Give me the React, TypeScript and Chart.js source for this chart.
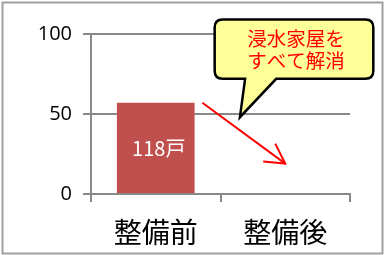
import React, { useEffect, useRef } from "react";
import { Chart, registerables } from "chart.js";

Chart.register(...registerables);

const categories = ["整備前", "整備後"];
const values: (number | null)[] = [57, null];
const barLabels = ["118戸", ""];
const yTicks = [0, 50, 100];
const calloutLines = ["浸水家屋を", "すべて解消"];

const JP = '"Noto Sans CJK JP", "Noto Sans", sans-serif';

const overlay = {
  id: "overlay",
  afterDatasetsDraw(chart: any) {
    const ctx = chart.ctx;
    const x = chart.scales.x;
    const y = chart.scales.y;
    // bar labels
    const meta = chart.getDatasetMeta(0);
    ctx.save();
    ctx.fillStyle = "#ffffff";
    ctx.font = `20px ${JP}`;
    ctx.textAlign = "center";
    ctx.textBaseline = "middle";
    meta.data.forEach((el: any, i: number) => {
      if (values[i] == null || !barLabels[i]) return;
      ctx.fillText(barLabels[i], el.x + 3, (el.y + el.base) / 2 + 1);
    });
    ctx.restore();

    // arrow
    const sx = x.getPixelForValue(0.36);
    const sy = y.getPixelForValue(values[0] as number);
    const ex = x.getPixelForValue(1.0);
    const ey = y.getPixelForValue(19);
    ctx.save();
    ctx.strokeStyle = "#ff0000";
    ctx.lineWidth = 2;
    ctx.beginPath();
    ctx.moveTo(sx, sy);
    ctx.lineTo(ex, ey);
    ctx.stroke();
    ctx.beginPath();
    ctx.moveTo(ex - 10, ey - 20);
    ctx.lineTo(ex, ey);
    ctx.lineTo(ex - 22, ey - 2);
    ctx.stroke();
    ctx.restore();

    // callout
    const l = x.getPixelForValue(0.455);
    const r = x.getPixelForValue(1.68);
    const t = y.getPixelForValue(109);
    const b = y.getPixelForValue(72);
    const tipX = x.getPixelForValue(0.65);
    const tipY = y.getPixelForValue(48);
    const b1 = x.getPixelForValue(0.69);
    const b2 = x.getPixelForValue(0.93);
    const rad = 8;
    ctx.save();
    ctx.beginPath();
    ctx.moveTo(l + rad, t);
    ctx.lineTo(r - rad, t);
    ctx.quadraticCurveTo(r, t, r, t + rad);
    ctx.lineTo(r, b - rad);
    ctx.quadraticCurveTo(r, b, r - rad, b);
    ctx.lineTo(b2, b);
    ctx.lineTo(tipX, tipY);
    ctx.lineTo(b1, b);
    ctx.lineTo(l + rad, b);
    ctx.quadraticCurveTo(l, b, l, b - rad);
    ctx.lineTo(l, t + rad);
    ctx.quadraticCurveTo(l, t, l + rad, t);
    ctx.closePath();
    ctx.fillStyle = "#ffff99";
    ctx.fill();
    ctx.lineWidth = 2.5;
    ctx.strokeStyle = "#000000";
    ctx.lineJoin = "miter";
    ctx.stroke();
    ctx.fillStyle = "#ff0000";
    ctx.font = `19.5px ${JP}`;
    ctx.textAlign = "center";
    ctx.textBaseline = "middle";
    const cx = (l + r) / 2 + 2;
    const mid = (t + b) / 2;
    ctx.fillText(calloutLines[0], cx, mid - 11);
    ctx.fillText(calloutLines[1], cx, mid + 11);
    ctx.restore();
  },
  afterDraw(chart: any) {
    const ctx = chart.ctx;
    ctx.save();
    ctx.strokeStyle = "#a0a0a0";
    ctx.lineWidth = 2;
    ctx.strokeRect(2.5, 2.5, chart.width - 4, chart.height - 4);
    ctx.restore();
  },
};

export default function App() {
  const ref = useRef<HTMLCanvasElement | null>(null);
  useEffect(() => {
    document.body.style.margin = "0";
    const chart = new Chart(ref.current as HTMLCanvasElement, {
      type: "bar",
      data: {
        labels: categories,
        datasets: [
          {
            data: values,
            backgroundColor: "#c0504d",
            categoryPercentage: 0.6,
            barPercentage: 1,
          },
        ],
      },
      options: {
        animation: false,
        responsive: false,
        maintainAspectRatio: false,
        layout: { padding: { top: 34, right: 34, left: 0, bottom: 0 } },
        plugins: { legend: { display: false }, tooltip: { enabled: false } },
        scales: {
          x: {
            offset: true,
            grid: {
              display: true,
              offset: true,
              drawOnChartArea: false,
              tickLength: 8,
              color: "#888888",
              lineWidth: 2,
            },
            border: { display: true, color: "#888888", width: 2 },
            ticks: {
              color: "#000000",
              font: { family: JP, size: 28 },
              padding: 14,
            },
            afterFit: (s: any) => {
              s.height = 61;
            },
          },
          y: {
            min: 0,
            max: 100,
            afterBuildTicks: (s: any) => {
              s.ticks = yTicks.map((v) => ({ value: v }));
            },
            grid: { color: "#888888", lineWidth: 2, tickLength: 8 },
            border: { display: true, color: "#888888", width: 2 },
            ticks: {
              color: "#000000",
              font: { family: '"Open Sans", sans-serif', size: 20 },
              padding: 11,
            },
            afterFit: (s: any) => {
              s.width = 91;
            },
          },
        },
      },
      plugins: [overlay],
    });
    return () => chart.destroy();
  }, []);
  return (
    <div style={{ position: "absolute", left: 0, top: 0, width: 384, height: 255 }}>
      <canvas ref={ref} width={384} height={255} style={{ display: "block" }} />
    </div>
  );
}
